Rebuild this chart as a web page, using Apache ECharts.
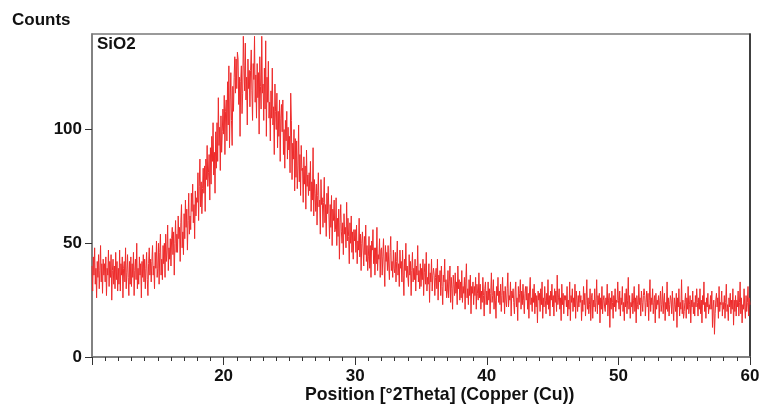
<!DOCTYPE html>
<html>
<head>
<meta charset="utf-8">
<script src="https://cdn.jsdelivr.net/npm/echarts@6/dist/echarts.min.js"></script>
<style>
  html, body { margin: 0; padding: 0; background: #fff; }
  #chart { width: 763px; height: 408px; }
</style>
</head>
<body>
<div id="chart"></div>
<script>
// Scan range and step (°2Theta)
const thetaStart = 10;
const thetaStep = 0.05;

// Measured counts, one row per degree (20 steps each, 10.00 .. 59.95), then 60.00
const counts = [
  40,29,44,36,48,32,39,26,42,35,45,30,38,49,33,41,28,43,36,41,
  33,44,27,39,36,47,31,42,35,45,25,38,43,32,40,30,46,34,42,29,
  39,32,47,29,41,36,44,26,39,42,33,48,30,37,45,35,27,42,32,44,
  31,41,35,46,27,38,43,34,50,30,39,32,44,36,41,26,42,35,45,33,
  43,30,39,46,34,27,41,48,36,43,33,42,49,36,40,30,46,39,51,35,
  39,50,32,46,54,36,43,34,49,41,50,35,54,42,47,58,38,48,43,52,
  40,52,57,45,55,36,50,60,46,54,46,62,52,57,42,59,67,48,55,45,
  63,52,69,57,65,47,60,72,54,62,56,72,64,76,59,67,52,73,62,70,
  68,81,60,75,87,66,77,63,74,83,72,84,64,87,78,93,75,81,89,69,
  92,76,97,86,103,80,90,72,99,83,103,86,114,93,101,82,106,90,99,109,
  98,115,89,108,113,95,121,102,128,92,113,125,104,93,119,108,123,132,116,131,
  118,134,131,111,123,97,121,128,107,116,141,128,117,138,113,123,102,131,118,126,
  110,126,135,117,104,129,122,141,112,124,105,129,114,125,98,132,119,109,141,116,
  120,104,127,109,139,97,123,112,130,105,112,95,117,105,127,102,110,89,120,108,
  100,116,92,108,97,113,86,105,111,99,113,89,100,83,104,95,108,87,101,91,
  97,81,116,104,78,94,87,100,73,96,79,95,74,84,102,77,89,71,93,82,
  83,68,88,76,84,65,91,75,80,71,81,73,86,64,77,69,92,62,78,72,
  64,76,58,71,81,66,69,54,78,67,70,57,68,79,59,67,53,72,63,75,
  63,52,67,57,71,49,65,60,69,55,56,70,49,61,53,65,43,59,67,55,
  50,59,45,63,54,57,48,68,51,61,53,41,59,50,62,46,55,43,56,51,
  56,46,58,41,51,47,61,44,54,38,50,55,47,40,53,45,58,42,49,38,
  44,53,39,49,35,51,47,56,41,48,36,48,41,57,38,45,43,52,35,47,
  48,36,44,52,40,31,49,42,46,38,49,40,34,46,53,38,42,35,47,39,
  37,46,33,42,51,36,41,31,47,39,42,33,47,36,27,43,38,50,35,40,
  40,31,45,36,42,27,38,46,33,39,34,43,29,40,36,49,33,38,30,41,
  31,39,34,43,27,37,41,32,46,29,35,32,41,24,37,33,43,29,36,39,
  36,27,35,39,30,43,25,36,33,38,27,40,31,23,36,33,43,29,34,26,
  29,38,26,33,40,24,35,30,21,36,32,27,37,28,33,23,40,30,34,25,
  33,26,38,24,31,28,35,21,33,41,26,30,23,34,27,36,19,31,28,33,
  23,31,27,35,21,32,28,25,37,26,32,21,29,24,35,27,18,30,33,23,
  29,23,33,25,30,19,28,37,24,27,34,21,29,25,17,31,27,35,24,29,
  23,32,20,27,35,24,29,19,31,25,22,30,37,22,27,25,33,18,29,26,
  30,24,19,29,33,22,26,16,31,24,28,34,21,29,23,32,25,19,28,31,
  25,31,21,28,17,29,35,23,26,20,30,24,32,19,28,22,27,15,29,25,
  28,20,30,23,33,17,26,22,31,25,19,28,23,34,21,27,18,29,25,32,
  22,27,18,30,24,29,20,36,23,26,30,21,26,16,32,23,28,19,27,25,
  27,22,31,18,25,21,33,16,27,24,30,20,26,22,32,17,29,25,20,27,
  22,29,24,27,16,25,20,31,23,28,18,25,34,21,26,19,23,30,16,26,
  28,17,25,22,30,20,24,34,19,27,23,28,15,26,21,31,19,25,27,22,
  20,26,23,32,18,25,28,13,26,21,29,24,17,27,22,30,20,25,24,33,
  25,21,29,18,26,23,31,20,24,16,28,22,30,19,25,35,21,27,17,24,
  22,28,19,25,31,20,26,15,27,23,21,32,23,26,18,29,24,20,27,30,
  27,18,24,29,22,28,16,25,34,20,26,23,30,19,24,27,15,28,21,25,
  23,27,17,25,29,20,23,31,19,25,28,16,24,21,33,20,26,18,23,27,
  25,19,29,22,16,26,23,20,28,13,26,22,30,18,24,21,34,19,25,17,
  20,24,28,17,26,21,31,19,23,27,15,25,22,29,19,24,18,27,22,30,
  24,18,26,21,30,19,25,15,27,23,33,20,24,17,26,22,28,19,23,21,
  27,21,29,13,22,25,10,19,25,28,22,26,17,31,20,24,23,29,18,24,
  21,27,17,24,32,20,23,16,26,22,28,19,25,21,30,14,25,20,27,18,
  25,22,29,18,24,33,19,26,15,23,21,30,22,17,27,20,24,31,18,26,
  23
];

// Axis settings
const xTicks = [10, 20, 30, 40, 50, 60];
const yTicks = [0, 50, 100];
const yMax = 142;

const points = counts.map((c, i) => [+(thetaStart + i * thetaStep).toFixed(2), c]);

const font = '"Liberation Sans", Arial, sans-serif';
const chart = echarts.init(document.getElementById('chart'), null, { renderer: 'canvas' });

chart.setOption({
  animation: false,
  backgroundColor: '#ffffff',
  grid: {
    left: 92, right: 13, top: 34, bottom: 51,
    show: true,
    borderColor: '#7a7a7a',
    borderWidth: 1.5,
    backgroundColor: 'transparent'
  },
  graphic: [
    { type: 'text', left: 12, top: 12,
      style: { text: 'Counts', font: 'bold 17px ' + font, fill: '#111' } },
    { type: 'text', left: 97, top: 36,
      style: { text: 'SiO2', font: 'bold 17px ' + font, fill: '#111' } },
    { type: 'text', left: 305, top: 386,
      style: { text: 'Position [°2Theta] (Copper (Cu))', font: 'bold 17.7px ' + font, fill: '#111' } }
  ],
  xAxis: {
    type: 'value',
    min: xTicks[0],
    max: xTicks[xTicks.length - 1],
    interval: xTicks[1] - xTicks[0],
    axisLine: { show: true, onZero: false, lineStyle: { color: '#7a7a7a', width: 1.5 } },
    axisTick: { show: true, inside: false, length: 8, lineStyle: { color: '#333', width: 1 } },
    minorTick: { show: true, splitNumber: 10, length: 4, lineStyle: { color: '#333', width: 1 } },
    splitLine: { show: false },
    axisLabel: {
      showMinLabel: false,
      margin: 11,
      color: '#111',
      fontSize: 17,
      fontWeight: 'bold',
      fontFamily: font
    }
  },
  yAxis: [{
    type: 'value',
    min: yTicks[0],
    max: yMax,
    interval: yTicks[1] - yTicks[0],
    axisLine: { show: true, lineStyle: { color: '#7a7a7a', width: 1.5 } },
    axisTick: { show: true, inside: false, length: 7, lineStyle: { color: '#333', width: 1 } },
    splitLine: { show: false },
    axisLabel: {
      showMaxLabel: false,
      margin: 10,
      color: '#111',
      fontSize: 17,
      fontWeight: 'bold',
      fontFamily: font
    }
  }, {
    // right-hand frame edge, drawn darker
    type: 'value',
    position: 'right',
    min: yTicks[0],
    max: yMax,
    axisLine: { show: true, lineStyle: { color: '#222', width: 1.5 } },
    axisTick: { show: false },
    axisLabel: { show: false },
    splitLine: { show: false }
  }],
  series: [{
    type: 'line',
    data: points,
    showSymbol: false,
    symbol: 'none',
    clip: true,
    lineStyle: { color: '#ee2b2b', width: 1 },
    emphasis: { disabled: true }
  }]
});
</script>
</body>
</html>
